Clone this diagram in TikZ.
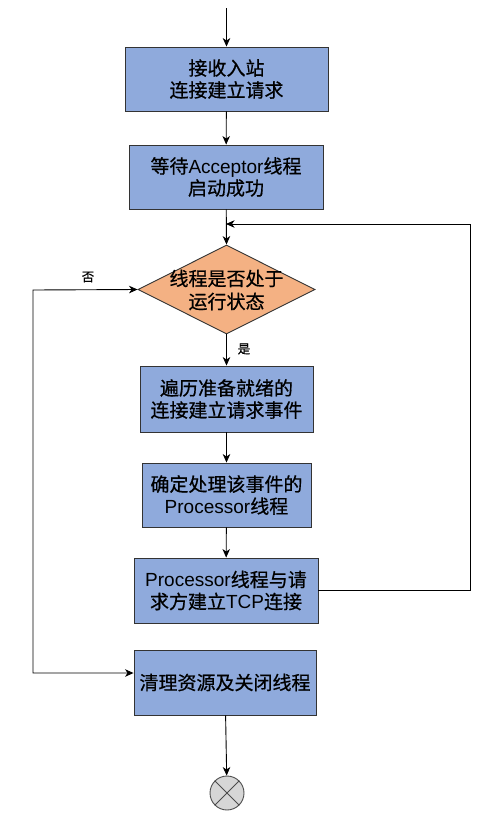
\documentclass[tikz,border=0pt]{standalone}
\usepackage{fontspec}
\setmainfont{Noto Sans CJK SC}[FakeBold=0.6]
\newfontfamily\latin{Liberation Sans}
\usetikzlibrary{arrows.meta,shapes.geometric}
\definecolor{boxblue}{HTML}{8FAADC}
\definecolor{decorange}{HTML}{F4B183}
\definecolor{endgray}{HTML}{D6D6D6}
\tikzset{
  >={Stealth[length=8.5pt,width=7.5pt,inset=2.5pt]},
  stepbox/.style={draw=black!80, line width=0.9pt, fill=boxblue, align=center,
    font=\fontsize{19}{22}\selectfont, inner sep=0pt},
  decision/.style={draw=black!80, line width=0.9pt, fill=decorange, diamond,
    minimum width=177pt, minimum height=89pt, inner sep=0pt},
  label text/.style={font=\fontsize{12.5}{15}\selectfont},
  flow/.style={draw=black, line width=0.9pt, ->},
  endmark/.style={circle, draw=black!70, line width=0.9pt, fill=endgray,
    minimum size=34pt, inner sep=0pt},
}
\begin{document}
\begin{tikzpicture}[x=1pt,y=-1pt]
\useasboundingbox (0,0) rectangle (493,822);

% process steps
\node[stepbox, minimum width=203pt, minimum height=64pt] (recv) at (226.5,79)
  {接收入站\\连接建立请求};
\node[stepbox, minimum width=194pt, minimum height=64pt] (wait) at (226,177)
  {等待{\latin Acceptor}线程\\启动成功};
\node[decision] (running) at (226.5,289.5) {};
\node[align=center, font=\fontsize{19}{23}\selectfont] (runtext) at (226.5,290)
  {线程是否处于\\运行状态};
\node[stepbox, minimum width=173pt, minimum height=66pt] (scan) at (226.5,399)
  {遍历准备就绪的\\连接建立请求事件};
\node[stepbox, minimum width=169pt, minimum height=64pt] (pick) at (226.5,495)
  {确定处理该事件的\\{\latin Processor}线程};
\node[stepbox, minimum width=184pt, minimum height=65pt] (conn) at (226,590.5)
  {{\latin Processor}线程与请\\求方建立{\latin TCP}连接};
\node[stepbox, minimum width=182pt, minimum height=65pt] (clean) at (225,682.5)
  {清理资源及关闭线程};
\node[endmark] (stop) at (227,793) {};
\draw[black!70, line width=0.9pt] (stop.north west) -- (stop.south east)
  (stop.north east) -- (stop.south west);

% entry point and loop corners
\coordinate (entry) at (226.5,8);
\coordinate (loopR) at (470,224);
\coordinate (loopL) at (33,290);

% main flow
\draw[flow] (entry) -- (recv);
\draw[flow] (recv) -- (wait);
\draw[flow] (wait) -- (running.north);
\draw[flow] (running.south) -- (scan);
\draw[flow] (scan) -- (pick);
\draw[flow] (pick) -- (conn);
\draw[flow] (clean) -- (stop);

% back to the state check
\draw[flow] (conn.east) -| (loopR) -- (wait.south |- loopR);

% not running: clean up
\draw[flow, <->]
  (running.west) -- (loopL) |- ([yshift=9.5pt]clean.west);

% branch labels
\node[label text] (yes) at (244,349) {是};
\node[label text] (no) at (88,277) {否};
\end{tikzpicture}
\end{document}
